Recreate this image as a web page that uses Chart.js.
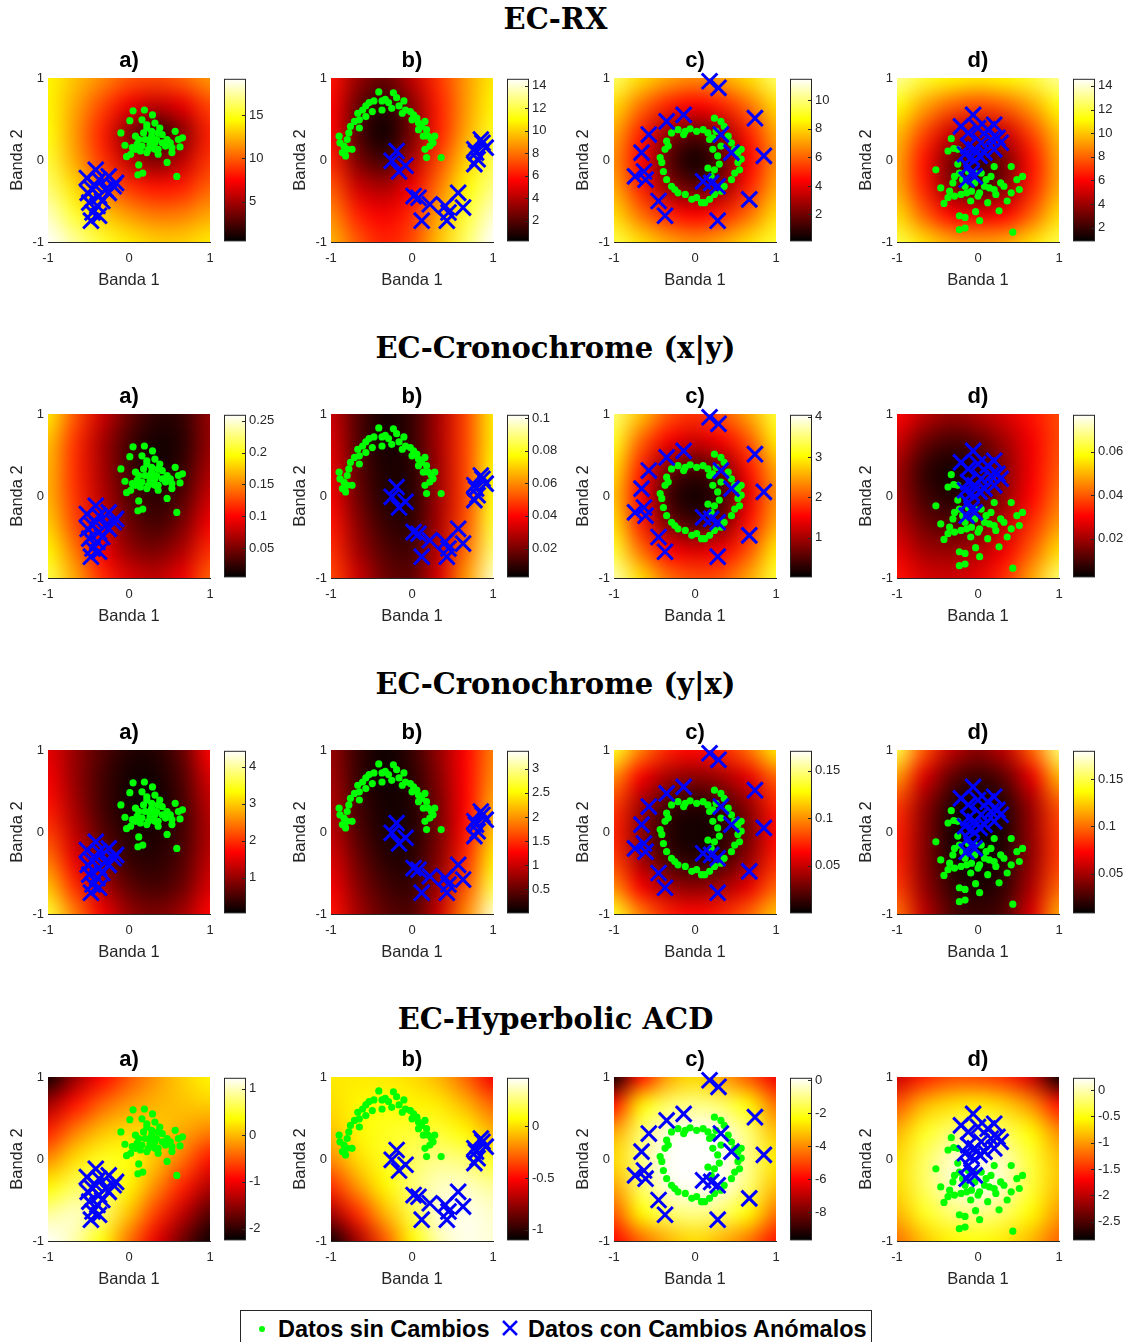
<!DOCTYPE html>
<html>
<head>
<meta charset="utf-8">
<script src="https://cdn.jsdelivr.net/npm/chart.js@4.4.1/dist/chart.umd.min.js"></script>
<style>
    body { margin: 0; background: #fff; width: 1124px; height: 1342px; position: relative; overflow: hidden; }
    canvas { position: absolute; }
    .row-title { position: absolute; left: 0; width: 1111px; height: 34px; line-height: 34px; text-align: center;
        font: bold 29px 'DejaVu Serif', serif; color: #000; }
    #legend { position: absolute; left: 240px; top: 1310px; width: 630px; height: 40px; border: 1px solid #262626;
        background: #fff; font: bold 23.5px 'Liberation Sans', Arial, sans-serif; color: #000; }
    #legend span { position: absolute; top: 0; line-height: 36px; white-space: nowrap; }
</style>
</head>
<body>
<div id="titles"></div>
<div id="legend">
    <svg width="12" height="12" style="position:absolute;left:15px;top:12px"><circle cx="6" cy="6" r="3" fill="#00ff00"/></svg>
    <span style="left:37px">Datos sin Cambios</span>
    <svg width="20" height="20" style="position:absolute;left:259px;top:7px"><path d="M3 3 L17 17 M17 3 L3 17" stroke="#0000ff" stroke-width="2.6"/></svg>
    <span style="left:287px">Datos con Cambios Anómalos</span>
</div>
<script>
const rowTitles = ['EC-RX', 'EC-Cronochrome (x|y)', 'EC-Cronochrome (y|x)', 'EC-Hyperbolic ACD'];
const panelLabels = ['a)', 'b)', 'c)', 'd)'];
const axisTicks = [-1, 0, 1];

// data points per column (same in every row)
const greenA = [[0.05,0.60],[0.19,0.61],[0.29,0.55],[0.01,0.48],[-0.10,0.33],[-0.05,0.18],[-0.03,0.04],[0.12,-0.06],[0.17,-0.16],[0.11,-0.18],[0.59,-0.20],[0.47,-0.03],[0.57,0.35],[0.66,0.27],[0.63,0.16],[0.61,0.25],[0.16,0.49],[0.22,0.39],[0.32,0.45],[0.38,0.39],[0.28,0.29],[0.34,0.25],[0.41,0.21],[0.08,0.29],[0.12,0.25],[0.20,0.25],[0.26,0.19],[0.32,0.13],[0.45,0.17],[0.53,0.15],[0.08,0.13],[0.14,0.11],[0.22,0.09],[0.36,0.07],[0.04,0.15],[0.02,0.07],[0.28,0.35],[0.18,0.33],[0.41,0.31],[0.47,0.25],[0.51,0.21],[0.24,0.13],[0.16,0.17],[0.10,0.19],[0.32,0.21],[0.22,0.43],[0.36,0.33],[0.26,0.25],[0.53,0.09],[0.36,0.13]];
const blueA = [[-0.41,-0.12],[-0.52,-0.22],[-0.37,-0.24],[-0.25,-0.20],[-0.19,-0.32],[-0.29,-0.36],[-0.45,-0.36],[-0.37,-0.44],[-0.49,-0.52],[-0.39,-0.56],[-0.45,-0.64],[-0.37,-0.68],[-0.47,-0.74],[-0.16,-0.28],[-0.41,-0.32],[-0.33,-0.50],[-0.25,-0.40],[-0.51,-0.40]];
const greenB = [[-0.90,0.29],[-0.89,0.21],[-0.86,0.09],[-0.82,0.05],[-0.84,0.17],[-0.80,0.25],[-0.78,0.33],[-0.76,0.41],[-0.71,0.47],[-0.65,0.49],[-0.67,0.57],[-0.61,0.61],[-0.57,0.66],[-0.53,0.70],[-0.47,0.72],[-0.41,0.83],[-0.37,0.72],[-0.33,0.74],[-0.29,0.70],[-0.23,0.82],[-0.19,0.76],[-0.16,0.66],[-0.10,0.72],[-0.08,0.61],[-0.02,0.59],[0.02,0.55],[0.06,0.51],[0.08,0.45],[0.12,0.41],[0.16,0.47],[0.18,0.37],[0.20,0.29],[0.24,0.25],[0.28,0.29],[0.22,0.17],[0.16,0.13],[0.18,0.03],[0.36,0.03],[-0.65,0.39],[-0.57,0.53],[-0.49,0.59],[-0.37,0.61],[-0.25,0.63],[-0.12,0.57],[0.00,0.49],[0.08,0.37],[0.14,0.29],[0.26,0.21],[-0.74,0.13],[-0.80,0.13]];
const blueB = [[-0.19,0.11],[-0.25,-0.01],[-0.16,-0.14],[-0.08,-0.07],[0.02,-0.44],[0.08,-0.46],[0.22,-0.54],[0.12,-0.74],[0.41,-0.56],[0.45,-0.64],[0.57,-0.40],[0.63,-0.58],[0.43,-0.74],[0.77,-0.05],[0.79,0.09],[0.87,0.21],[0.91,0.15],[0.81,0.01],[0.85,0.25],[0.77,0.13]];
const greenC = [[-0.29,0.33],[-0.21,0.37],[-0.12,0.35],[-0.06,0.38],[0.02,0.35],[0.10,0.37],[0.16,0.33],[0.22,0.27],[0.26,0.35],[0.24,0.51],[0.32,0.47],[0.36,0.41],[0.41,0.29],[0.45,0.21],[0.49,0.13],[0.53,0.09],[0.57,0.01],[0.55,-0.12],[0.49,-0.16],[0.45,-0.24],[0.36,-0.32],[0.32,-0.38],[0.24,-0.42],[0.18,-0.48],[0.08,-0.52],[0.02,-0.46],[-0.04,-0.48],[-0.12,-0.42],[-0.21,-0.40],[-0.29,-0.32],[-0.35,-0.24],[-0.39,-0.14],[-0.41,-0.03],[-0.43,0.03],[-0.37,0.13],[-0.33,0.17],[-0.35,0.23],[0.28,0.05],[0.30,-0.05],[0.24,-0.12],[0.20,-0.20],[0.16,-0.10],[0.22,0.13],[0.18,0.25],[0.32,0.17],[0.53,-0.03],[0.57,0.13],[0.12,-0.52],[-0.14,0.31],[-0.25,-0.36]];
const blueC = [[0.18,0.96],[0.29,0.88],[-0.14,0.55],[-0.35,0.47],[-0.57,0.31],[-0.66,0.09],[-0.74,-0.20],[-0.63,-0.14],[-0.61,-0.24],[-0.45,-0.50],[-0.37,-0.68],[0.28,-0.74],[0.67,-0.48],[0.74,0.51],[0.85,0.05],[0.45,0.09],[0.32,0.31],[0.10,-0.26],[0.20,-0.28],[0.28,-0.32]];
const greenD = [[-0.33,0.26],[-0.37,0.11],[-0.30,0.14],[-0.25,0.13],[-0.52,-0.12],[-0.46,-0.34],[-0.42,-0.53],[-0.37,-0.46],[-0.35,-0.38],[-0.31,-0.28],[-0.29,-0.20],[-0.23,-0.16],[-0.25,-0.05],[-0.19,-0.24],[-0.16,-0.32],[-0.14,-0.40],[-0.09,-0.50],[-0.12,-0.14],[-0.04,-0.28],[0.02,-0.40],[0.08,-0.32],[0.12,-0.52],[0.16,-0.20],[0.20,-0.08],[0.22,-0.42],[0.26,-0.62],[0.28,-0.28],[0.32,-0.32],[0.36,-0.50],[0.41,-0.40],[0.41,-0.08],[0.48,-0.24],[0.51,-0.36],[0.55,-0.20],[-0.23,-0.68],[-0.16,-0.70],[-0.03,-0.63],[0.02,-0.74],[-0.16,-0.83],[-0.23,-0.85],[0.43,-0.88],[-0.04,-0.16],[0.04,-0.16],[0.10,-0.24],[0.14,-0.34],[-0.08,-0.38],[0.00,-0.44],[-0.21,-0.42],[-0.29,-0.44],[0.20,-0.36]];
const blueD = [[-0.06,0.55],[-0.21,0.41],[-0.12,0.33],[0.00,0.39],[0.12,0.37],[0.20,0.43],[0.24,0.27],[0.28,0.21],[0.16,0.25],[0.04,0.21],[-0.04,0.13],[-0.12,0.17],[-0.16,0.07],[-0.08,0.03],[0.02,0.05],[0.08,0.09],[0.20,0.13],[-0.12,-0.08],[-0.08,-0.16],[-0.14,-0.24],[-0.04,-0.20]];

// background heat level (0 = black .. 1 = white on the hot map), sampled at x,y = -1, -2/3, ... 1 (rows from y = 1 down)
const heatRxA = [[0.74,0.66,0.58,0.50,0.48,0.52,0.60],[0.74,0.62,0.48,0.35,0.28,0.34,0.48],[0.76,0.60,0.42,0.20,0.06,0.20,0.42],[0.80,0.62,0.45,0.28,0.18,0.28,0.45],[0.86,0.70,0.55,0.45,0.40,0.42,0.52],[0.94,0.80,0.68,0.60,0.55,0.56,0.62],[1.00,0.90,0.80,0.72,0.68,0.68,0.72]];
const heatRxB = [[0.40,0.22,0.15,0.28,0.45,0.60,0.72],[0.38,0.15,0.06,0.20,0.42,0.60,0.74],[0.38,0.12,0.02,0.18,0.42,0.62,0.78],[0.42,0.18,0.10,0.25,0.48,0.68,0.82],[0.50,0.30,0.25,0.36,0.55,0.74,0.88],[0.58,0.42,0.36,0.44,0.62,0.80,0.95],[0.64,0.50,0.42,0.48,0.66,0.85,1.00]];
const heatRxC = [[0.85,0.70,0.62,0.58,0.62,0.70,0.85],[0.70,0.54,0.42,0.37,0.42,0.54,0.70],[0.62,0.42,0.22,0.14,0.22,0.42,0.62],[0.58,0.37,0.14,0.02,0.14,0.37,0.58],[0.62,0.42,0.22,0.14,0.22,0.42,0.62],[0.70,0.54,0.42,0.37,0.42,0.54,0.70],[0.82,0.70,0.62,0.58,0.62,0.70,0.80]];
const heatRxD = [[0.90,0.80,0.74,0.72,0.74,0.80,0.90],[0.76,0.62,0.52,0.48,0.52,0.62,0.76],[0.66,0.48,0.30,0.24,0.30,0.48,0.66],[0.62,0.40,0.18,0.08,0.18,0.40,0.62],[0.63,0.42,0.20,0.10,0.20,0.42,0.63],[0.70,0.52,0.38,0.34,0.38,0.52,0.70],[0.82,0.70,0.62,0.60,0.62,0.70,0.82]];
const heatXyA = [[0.72,0.50,0.30,0.15,0.06,0.08,0.22],[0.66,0.45,0.25,0.10,0.03,0.06,0.22],[0.64,0.44,0.25,0.10,0.03,0.08,0.25],[0.64,0.45,0.27,0.12,0.06,0.12,0.30],[0.68,0.48,0.30,0.16,0.10,0.18,0.36],[0.74,0.55,0.36,0.22,0.18,0.26,0.44],[0.82,0.62,0.44,0.32,0.28,0.35,0.52]];
const heatXyB = [[0.30,0.12,0.03,0.08,0.25,0.48,0.72],[0.32,0.12,0.03,0.08,0.25,0.48,0.72],[0.34,0.14,0.04,0.06,0.24,0.48,0.74],[0.36,0.16,0.05,0.06,0.24,0.48,0.76],[0.40,0.20,0.08,0.07,0.25,0.50,0.80],[0.44,0.24,0.12,0.10,0.28,0.54,0.86],[0.48,0.30,0.16,0.14,0.32,0.60,0.94]];
const heatXyC = [[0.86,0.66,0.50,0.44,0.50,0.62,0.80],[0.78,0.52,0.36,0.30,0.36,0.50,0.72],[0.70,0.42,0.18,0.10,0.18,0.40,0.62],[0.66,0.38,0.10,0.02,0.10,0.34,0.58],[0.70,0.42,0.18,0.10,0.18,0.40,0.62],[0.80,0.54,0.38,0.32,0.36,0.50,0.72],[0.92,0.70,0.54,0.48,0.50,0.62,0.80]];
const heatXyD = [[0.38,0.28,0.22,0.26,0.32,0.40,0.48],[0.30,0.16,0.10,0.14,0.24,0.36,0.48],[0.24,0.08,0.03,0.08,0.20,0.36,0.50],[0.24,0.10,0.05,0.10,0.22,0.38,0.54],[0.28,0.16,0.12,0.16,0.28,0.44,0.60],[0.34,0.24,0.22,0.26,0.36,0.52,0.70],[0.40,0.32,0.30,0.34,0.44,0.62,0.86]];
const heatYxA = [[0.34,0.22,0.12,0.05,0.05,0.15,0.38],[0.36,0.22,0.10,0.03,0.03,0.12,0.32],[0.40,0.24,0.10,0.03,0.02,0.10,0.28],[0.46,0.28,0.13,0.05,0.04,0.10,0.26],[0.55,0.34,0.18,0.08,0.06,0.12,0.28],[0.66,0.44,0.26,0.14,0.10,0.16,0.32],[0.80,0.56,0.36,0.22,0.18,0.24,0.38]];
const heatYxB = [[0.22,0.08,0.02,0.08,0.22,0.38,0.56],[0.24,0.08,0.02,0.06,0.20,0.38,0.58],[0.26,0.10,0.03,0.05,0.18,0.38,0.62],[0.28,0.12,0.04,0.05,0.18,0.40,0.66],[0.32,0.16,0.06,0.06,0.20,0.44,0.72],[0.36,0.20,0.10,0.08,0.24,0.50,0.82],[0.40,0.24,0.14,0.12,0.30,0.58,0.95]];
const heatYxC = [[0.78,0.56,0.42,0.38,0.42,0.54,0.72],[0.58,0.36,0.24,0.20,0.24,0.34,0.52],[0.46,0.24,0.10,0.06,0.10,0.22,0.42],[0.42,0.20,0.06,0.02,0.06,0.18,0.38],[0.46,0.24,0.10,0.06,0.10,0.22,0.42],[0.58,0.36,0.24,0.20,0.24,0.34,0.52],[0.78,0.56,0.42,0.38,0.42,0.52,0.66]];
const heatYxD = [[0.82,0.50,0.28,0.20,0.28,0.52,0.86],[0.60,0.32,0.14,0.08,0.14,0.34,0.64],[0.46,0.22,0.06,0.02,0.06,0.24,0.50],[0.42,0.20,0.04,0.01,0.05,0.22,0.46],[0.42,0.20,0.05,0.02,0.06,0.22,0.46],[0.46,0.22,0.08,0.04,0.08,0.26,0.52],[0.54,0.28,0.12,0.08,0.12,0.32,0.62]];
const heatHaA = [[0.02,0.22,0.38,0.50,0.60,0.68,0.74],[0.24,0.40,0.52,0.60,0.64,0.66,0.68],[0.42,0.56,0.66,0.70,0.68,0.62,0.56],[0.58,0.70,0.78,0.76,0.66,0.54,0.40],[0.74,0.84,0.86,0.74,0.58,0.42,0.26],[0.90,0.94,0.86,0.66,0.46,0.28,0.12],[1.00,0.92,0.76,0.54,0.34,0.16,0.02]];
const heatHaB = [[0.72,0.72,0.72,0.70,0.64,0.52,0.36],[0.70,0.74,0.76,0.74,0.72,0.64,0.52],[0.66,0.74,0.78,0.80,0.80,0.74,0.64],[0.58,0.70,0.78,0.84,0.88,0.86,0.78],[0.44,0.60,0.74,0.86,0.94,0.94,0.90],[0.24,0.44,0.64,0.82,0.96,0.98,0.95],[0.02,0.24,0.50,0.74,0.92,0.98,0.96]];
const heatHaC = [[0.02,0.40,0.62,0.70,0.62,0.50,0.36],[0.40,0.72,0.85,0.88,0.85,0.74,0.54],[0.62,0.85,0.97,0.99,0.97,0.86,0.66],[0.70,0.88,0.99,1.00,0.99,0.88,0.72],[0.62,0.85,0.97,0.99,0.97,0.86,0.66],[0.50,0.74,0.85,0.88,0.85,0.74,0.54],[0.38,0.52,0.64,0.70,0.64,0.54,0.40]];
const heatHaD = [[0.30,0.42,0.48,0.48,0.44,0.30,0.02],[0.50,0.64,0.70,0.72,0.68,0.58,0.40],[0.64,0.78,0.86,0.88,0.84,0.74,0.58],[0.70,0.84,0.94,0.97,0.92,0.80,0.66],[0.70,0.84,0.94,0.98,0.93,0.80,0.66],[0.64,0.78,0.86,0.88,0.84,0.74,0.60],[0.54,0.66,0.74,0.76,0.72,0.64,0.52]];

// colorbar limits [min, max] and tick values per row
const cbRangeRx = [[0.45, 19.2], [0.2, 14.6], [0.13, 11.5], [0.85, 14.6]];
const cbRangeXy = [[0.005, 0.259], [0.0024, 0.102], [0.02, 4.05], [0.0023, 0.077]];
const cbRangeYx = [[0.035, 4.43], [0.008, 3.37], [0.0, 0.171], [0.008, 0.18]];
const cbRangeHa = [[-2.25, 1.23], [-1.1, 0.47], [-9.7, 0.14], [-2.85, 0.23]];
const cbTicksRx = [[5, 10, 15], [2, 4, 6, 8, 10, 12, 14], [2, 4, 6, 8, 10], [2, 4, 6, 8, 10, 12, 14]];
const cbTicksXy = [[0.05, 0.1, 0.15, 0.2, 0.25], [0.02, 0.04, 0.06, 0.08, 0.1], [1, 2, 3, 4], [0.02, 0.04, 0.06]];
const cbTicksYx = [[1, 2, 3, 4], [0.5, 1, 1.5, 2, 2.5, 3], [0.05, 0.1, 0.15], [0.05, 0.1, 0.15]];
const cbTicksHa = [[-2, -1, 0, 1], [-1, -0.5, 0], [-8, -6, -4, -2, 0], [-2.5, -2, -1.5, -1, -0.5, 0]];

// layout
const plotLefts = [48, 331, 614, 897];
const plotTops = [78, 414, 750, 1077];
const titleCenters = [19, 348, 684, 1019];
const PLOT = 164;
const FONT = "'Liberation Sans', Arial, sans-serif";
const AXIS = '#262626';

// MATLAB "hot" colormap
function hot(t) {
    t = Math.min(1, Math.max(0, t));
    return [t / 0.375, (t - 0.375) / 0.375, (t - 0.75) / 0.25]
        .map(v => Math.round(Math.min(1, Math.max(0, v)) * 255));
}

const heatPlugin = {
    id: 'heat',
    beforeDatasetsDraw(chart, args, opts) {
        const grid = opts.levels;
        if (!grid) return;
        const n = grid.length;
        const off = document.createElement('canvas');
        off.width = n; off.height = n;
        const octx = off.getContext('2d');
        const img = octx.createImageData(n, n);
        grid.forEach((row, j) => row.forEach((t, i) => {
            const [r, g, b] = hot(t);
            const k = (j * n + i) * 4;
            img.data[k] = r; img.data[k + 1] = g; img.data[k + 2] = b; img.data[k + 3] = 255;
        }));
        octx.putImageData(img, 0, 0);
        const { x, y } = chart.scales;
        const l = x.getPixelForValue(-1), r = x.getPixelForValue(1);
        const t = y.getPixelForValue(1), b = y.getPixelForValue(-1);
        const ctx = chart.ctx;
        ctx.save();
        ctx.imageSmoothingEnabled = true;
        ctx.imageSmoothingQuality = 'high';
        ctx.drawImage(off, 0.5, 0.5, n - 1, n - 1, l, t, r - l, b - t);
        ctx.restore();
    }
};

const colorbarPlugin = {
    id: 'colorbar',
    beforeDatasetsDraw(chart) {
        const { ctx, chartArea: a } = chart;
        const scale = chart.scales.y;
        const grad = ctx.createLinearGradient(0, a.bottom, 0, a.top);
        [0, 0.375, 0.75, 1].forEach(s => grad.addColorStop(s, `rgb(${hot(s).join(',')})`));
        ctx.save();
        ctx.fillStyle = grad;
        ctx.fillRect(a.left, a.top, a.right - a.left, a.bottom - a.top);
        ctx.strokeStyle = AXIS;
        ctx.lineWidth = 1;
        ctx.strokeRect(a.left + 0.5, a.top + 0.5, a.right - a.left - 1, a.bottom - a.top - 1);
        ctx.beginPath();
        scale.ticks.forEach(tk => {
            const py = Math.round(scale.getPixelForValue(tk.value)) + 0.5;
            ctx.moveTo(a.right - 4, py); ctx.lineTo(a.right, py);
        });
        ctx.stroke();
        ctx.restore();
    }
};

function makeCanvas(left, top, w, h) {
    const c = document.createElement('canvas');
    c.width = w; c.height = h;
    c.style.left = left + 'px'; c.style.top = top + 'px';
    c.style.width = w + 'px'; c.style.height = h + 'px';
    document.body.appendChild(c);
    return c;
}

const rows = [
    { title: rowTitles[0], heat: [heatRxA, heatRxB, heatRxC, heatRxD], ranges: cbRangeRx, ticks: cbTicksRx },
    { title: rowTitles[1], heat: [heatXyA, heatXyB, heatXyC, heatXyD], ranges: cbRangeXy, ticks: cbTicksXy },
    { title: rowTitles[2], heat: [heatYxA, heatYxB, heatYxC, heatYxD], ranges: cbRangeYx, ticks: cbTicksYx },
    { title: rowTitles[3], heat: [heatHaA, heatHaB, heatHaC, heatHaD], ranges: cbRangeHa, ticks: cbTicksHa }
];
const greens = [greenA, greenB, greenC, greenD];
const blues = [blueA, blueB, blueC, blueD];
const toXY = pts => pts.map(([x, y]) => ({ x, y }));

rows.forEach((row, r) => {
    const div = document.createElement('div');
    div.className = 'row-title';
    div.style.top = (titleCenters[r] - 17) + 'px';
    div.textContent = row.title;
    document.getElementById('titles').appendChild(div);

    for (let c = 0; c < 4; c++) {
        const left = plotLefts[c], top = plotTops[r];

        // scatter panel with heat background
        const cv = makeCanvas(left - 48, top - 40, 48 + PLOT + 12, 40 + PLOT + 50);
        new Chart(cv, {
            type: 'scatter',
            data: {
                datasets: [
                    { label: 'Datos con Cambios Anómalos', data: toXY(blues[c]), pointStyle: 'crossRot', radius: 11,
                      borderColor: '#0000ff', borderWidth: 3, backgroundColor: '#0000ff', clip: false },
                    { label: 'Datos sin Cambios', data: toXY(greens[c]), pointStyle: 'circle', radius: 3.6,
                      backgroundColor: '#00ff00', borderWidth: 0, clip: false }
                ]
            },
            options: {
                responsive: false, animation: false, events: [],
                layout: { padding: { right: 12 } },
                plugins: {
                    legend: { display: false }, tooltip: { enabled: false },
                    title: { display: true, text: panelLabels[c], fullSize: false, color: '#000',
                             font: { family: FONT, size: 22, weight: 'bold', lineHeight: 1 }, padding: { top: 12, bottom: 6 } },
                    heat: { levels: row.heat[c] }
                },
                scales: {
                    x: {
                        min: -1, max: 1, bounds: 'data',
                        afterBuildTicks: s => { s.ticks = axisTicks.map(v => ({ value: v })); },
                        afterFit: s => { s.height = 50; },
                        grid: { display: false, drawTicks: false },
                        border: { display: true, color: AXIS, width: 1 },
                        ticks: { padding: 9, color: AXIS, font: { family: FONT, size: 13 }, maxRotation: 0, autoSkip: false },
                        title: { display: true, text: 'Banda 1', color: AXIS, font: { family: FONT, size: 16.5 }, padding: { top: 0, bottom: 2 } }
                    },
                    y: {
                        min: -1, max: 1, bounds: 'data',
                        afterBuildTicks: s => { s.ticks = axisTicks.map(v => ({ value: v })); },
                        afterFit: s => { s.width = 48; },
                        grid: { display: false, drawTicks: false },
                        border: { display: true, color: AXIS, width: 1 },
                        ticks: { padding: 4, color: AXIS, font: { family: FONT, size: 13 }, autoSkip: false },
                        title: { display: true, text: 'Banda 2', color: AXIS, font: { family: FONT, size: 16.5 }, padding: { top: 8, bottom: 0 } }
                    }
                }
            },
            plugins: [heatPlugin]
        });

        // colorbar
        const [cbMin, cbMax] = row.ranges[c];
        const cbTicks = row.ticks[c];
        const cb = makeCanvas(left + 176, top - 10, 22 + 50, PLOT + 20);
        new Chart(cb, {
            type: 'scatter',
            data: { datasets: [] },
            options: {
                responsive: false, animation: false, events: [],
                layout: { padding: { top: 10, bottom: 10, left: 0, right: 0 } },
                plugins: { legend: { display: false }, tooltip: { enabled: false } },
                scales: {
                    x: { display: false, min: 0, max: 1 },
                    y: {
                        position: 'right', min: cbMin, max: cbMax, bounds: 'data',
                        afterBuildTicks: s => { s.ticks = cbTicks.map(v => ({ value: v })); },
                        afterFit: s => { s.width = 50; },
                        grid: { display: false, drawTicks: false },
                        border: { display: false },
                        ticks: { padding: 3, color: AXIS, font: { family: FONT, size: 13 }, autoSkip: false, callback: v => String(v) }
                    }
                }
            },
            plugins: [colorbarPlugin]
        });
    }
});
</script>
</body>
</html>
